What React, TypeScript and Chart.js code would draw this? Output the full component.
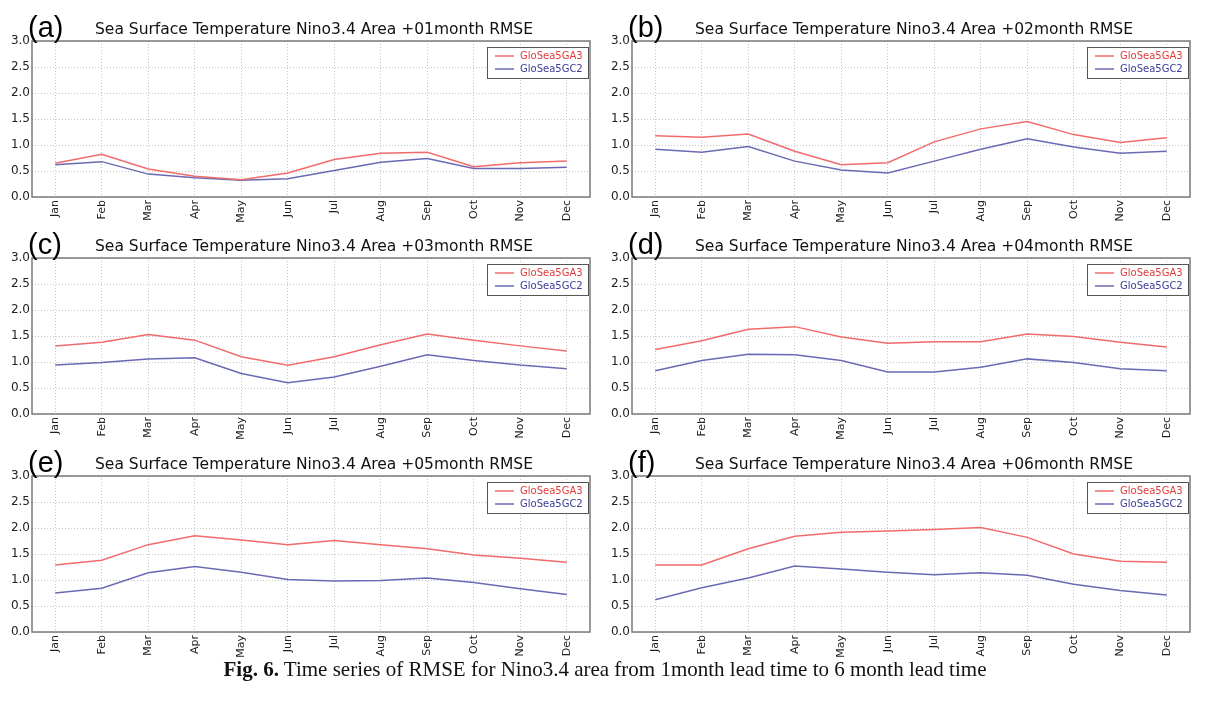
import React, { useEffect, useRef } from "react";
import { Chart, registerables } from "chart.js";

Chart.register(...registerables);

const months = ["Jan", "Feb", "Mar", "Apr", "May", "Jun", "Jul", "Aug", "Sep", "Oct", "Nov", "Dec"];
const yTickValues = [0, 0.5, 1.0, 1.5, 2.0, 2.5, 3.0];
const seriesNames = ["GloSea5GA3", "GloSea5GC2"];
const panelLetters = ["(a)", "(b)", "(c)", "(d)", "(e)", "(f)"];
const leadLabels = ["+01month", "+02month", "+03month", "+04month", "+05month", "+06month"];

const ga3Lead1 = [0.65, 0.82, 0.54, 0.4, 0.33, 0.46, 0.72, 0.84, 0.86, 0.58, 0.66, 0.69];
const gc2Lead1 = [0.62, 0.68, 0.44, 0.37, 0.32, 0.35, 0.51, 0.67, 0.74, 0.55, 0.55, 0.57];
const ga3Lead2 = [1.18, 1.15, 1.21, 0.88, 0.62, 0.66, 1.06, 1.31, 1.45, 1.2, 1.05, 1.14];
const gc2Lead2 = [0.92, 0.86, 0.97, 0.69, 0.52, 0.46, 0.69, 0.92, 1.12, 0.96, 0.84, 0.88];
const ga3Lead3 = [1.31, 1.38, 1.53, 1.42, 1.1, 0.94, 1.1, 1.33, 1.54, 1.42, 1.31, 1.21];
const gc2Lead3 = [0.94, 0.99, 1.06, 1.08, 0.78, 0.6, 0.71, 0.92, 1.14, 1.03, 0.94, 0.87];
const ga3Lead4 = [1.24, 1.41, 1.63, 1.68, 1.48, 1.36, 1.39, 1.39, 1.54, 1.49, 1.38, 1.29];
const gc2Lead4 = [0.83, 1.03, 1.15, 1.14, 1.03, 0.81, 0.81, 0.9, 1.06, 0.99, 0.87, 0.83];
const ga3Lead5 = [1.29, 1.38, 1.68, 1.85, 1.77, 1.68, 1.76, 1.68, 1.6, 1.48, 1.42, 1.34];
const gc2Lead5 = [0.75, 0.84, 1.14, 1.26, 1.15, 1.01, 0.98, 0.99, 1.04, 0.95, 0.83, 0.72];
const ga3Lead6 = [1.29, 1.29, 1.6, 1.84, 1.92, 1.94, 1.97, 2.01, 1.82, 1.5, 1.36, 1.34];
const gc2Lead6 = [0.62, 0.85, 1.04, 1.27, 1.21, 1.15, 1.1, 1.14, 1.09, 0.92, 0.8, 0.71];

const ga3All = [ga3Lead1, ga3Lead2, ga3Lead3, ga3Lead4, ga3Lead5, ga3Lead6];
const gc2All = [gc2Lead1, gc2Lead2, gc2Lead3, gc2Lead4, gc2Lead5, gc2Lead6];

const RED_LINE = "#f26b6b";
const BLUE_LINE = "#6a6ab4";
const RED_TEXT = "#e23a3a";
const BLUE_TEXT = "#3c3c9a";

const CANVAS_W = 600;
const CANVAS_H = 230;
const PLOT_TOP = 41;
const PLOT_BOTTOM = 197;
const Y_AXIS_W = 32;

function Panel(props: { index: number; left: number; top: number }) {
  const ref = useRef<HTMLCanvasElement>(null);
  const { index, left, top } = props;
  useEffect(() => {
    const canvas = ref.current;
    if (!canvas) return;
    const title = "Sea Surface Temperature Nino3.4 Area " + leadLabels[index] + " RMSE";
    const letter = panelLetters[index];
    const decor = {
      id: "decor",
      afterDatasetsDraw(chart: any) {
        const { ctx, chartArea } = chart;
        const { left: l, right: r, top: t, bottom: b } = chartArea;
        ctx.save();
        // frame
        ctx.strokeStyle = "#7a7a7a";
        ctx.lineWidth = 1.5;
        ctx.strokeRect(l, t, r - l, b - t);
        // legend
        const bw = 101;
        const bh = 31;
        const bx = r - bw - 2;
        const by = t + 6;
        ctx.fillStyle = "#ffffff";
        ctx.fillRect(bx, by, bw, bh);
        ctx.strokeStyle = "#555555";
        ctx.lineWidth = 1;
        ctx.strokeRect(bx + 0.5, by + 0.5, bw, bh);
        const cols = [RED_LINE, BLUE_LINE];
        const tcols = [RED_TEXT, BLUE_TEXT];
        ctx.font = '10px "DejaVu Sans"';
        ctx.textAlign = "left";
        ctx.textBaseline = "middle";
        for (let i = 0; i < 2; i++) {
          const yy = by + 9 + i * 13;
          ctx.strokeStyle = cols[i];
          ctx.lineWidth = 1.5;
          ctx.beginPath();
          ctx.moveTo(bx + 8, yy);
          ctx.lineTo(bx + 27, yy);
          ctx.stroke();
          ctx.fillStyle = tcols[i];
          ctx.fillText(seriesNames[i], bx + 33, yy);
        }
        // title
        ctx.fillStyle = "#111111";
        ctx.font = '15.5px "DejaVu Sans"';
        ctx.textAlign = "center";
        ctx.textBaseline = "middle";
        ctx.fillText(title, (l + r) / 2 + 3, t - 11);
        // panel letter
        ctx.font = '29px "Liberation Sans"';
        ctx.textAlign = "left";
        ctx.textBaseline = "alphabetic";
        ctx.fillStyle = "#000000";
        ctx.fillText(letter, l - 4, t - 4);
        ctx.restore();
      },
    };
    const chart = new Chart(canvas, {
      type: "line",
      data: {
        labels: months,
        datasets: [
          {
            label: seriesNames[0],
            data: ga3All[index],
            borderColor: RED_LINE,
            backgroundColor: RED_LINE,
            borderWidth: 1.5,
            pointRadius: 0,
            tension: 0,
            fill: false,
          },
          {
            label: seriesNames[1],
            data: gc2All[index],
            borderColor: BLUE_LINE,
            backgroundColor: BLUE_LINE,
            borderWidth: 1.5,
            pointRadius: 0,
            tension: 0,
            fill: false,
          },
        ],
      },
      options: {
        responsive: false,
        animation: false,
        events: [],
        layout: { padding: { top: PLOT_TOP, right: 10, left: 0, bottom: 0 } },
        plugins: {
          legend: { display: false },
          title: { display: false },
          tooltip: { enabled: false },
        },
        scales: {
          x: {
            type: "category",
            offset: true,
            grid: { color: "#c4c4c4", lineWidth: 1, drawTicks: false, offset: false },
            border: { display: false, dash: [1, 2] },
            ticks: {
              color: "#222222",
              font: { family: "DejaVu Sans", size: 11 },
              minRotation: 90,
              maxRotation: 90,
              padding: 3,
              autoSkip: false,
            },
            afterFit(scale: any) {
              scale.height = CANVAS_H - PLOT_BOTTOM;
            },
          },
          y: {
            min: yTickValues[0],
            max: yTickValues[yTickValues.length - 1],
            afterBuildTicks(scale: any) {
              scale.ticks = yTickValues.map((v) => ({ value: v }));
            },
            grid: { color: "#c4c4c4", lineWidth: 1, drawTicks: false },
            border: { display: false, dash: [1, 2] },
            ticks: {
              color: "#222222",
              font: { family: "DejaVu Sans", size: 12 },
              padding: 2,
              callback: (v: any) => Number(v).toFixed(1),
            },
            afterFit(scale: any) {
              scale.width = Y_AXIS_W;
            },
          },
        },
      },
      plugins: [decor],
    } as any);
    return () => chart.destroy();
  }, [index]);
  return (
    <canvas
      ref={ref}
      width={CANVAS_W}
      height={CANVAS_H}
      style={{ position: "absolute", left, top, width: CANVAS_W, height: CANVAS_H }}
    />
  );
}

const rowTops = [0, 217, 435];
const colLefts = [0, 600];

export default function App() {
  const panels = [];
  for (let i = 0; i < 6; i++) {
    const r = Math.floor(i / 2);
    const c = i % 2;
    panels.push(<Panel key={i} index={i} left={colLefts[c]} top={rowTops[r]} />);
  }
  return (
    <div
      style={{
        position: "absolute",
        left: 0,
        top: 0,
        width: 1210,
        height: 712,
        background: "#ffffff",
        overflow: "hidden",
      }}
    >
      {panels}
      <div
        style={{
          position: "absolute",
          left: 0,
          top: 656,
          width: 1210,
          textAlign: "center",
          fontFamily: '"Liberation Serif", serif',
          fontSize: 21,
          color: "#111",
          lineHeight: "26px",
        }}
      >
        <b>Fig. 6.</b> Time series of RMSE for Nino3.4 area from 1month lead time to 6 month lead time
      </div>
    </div>
  );
}
